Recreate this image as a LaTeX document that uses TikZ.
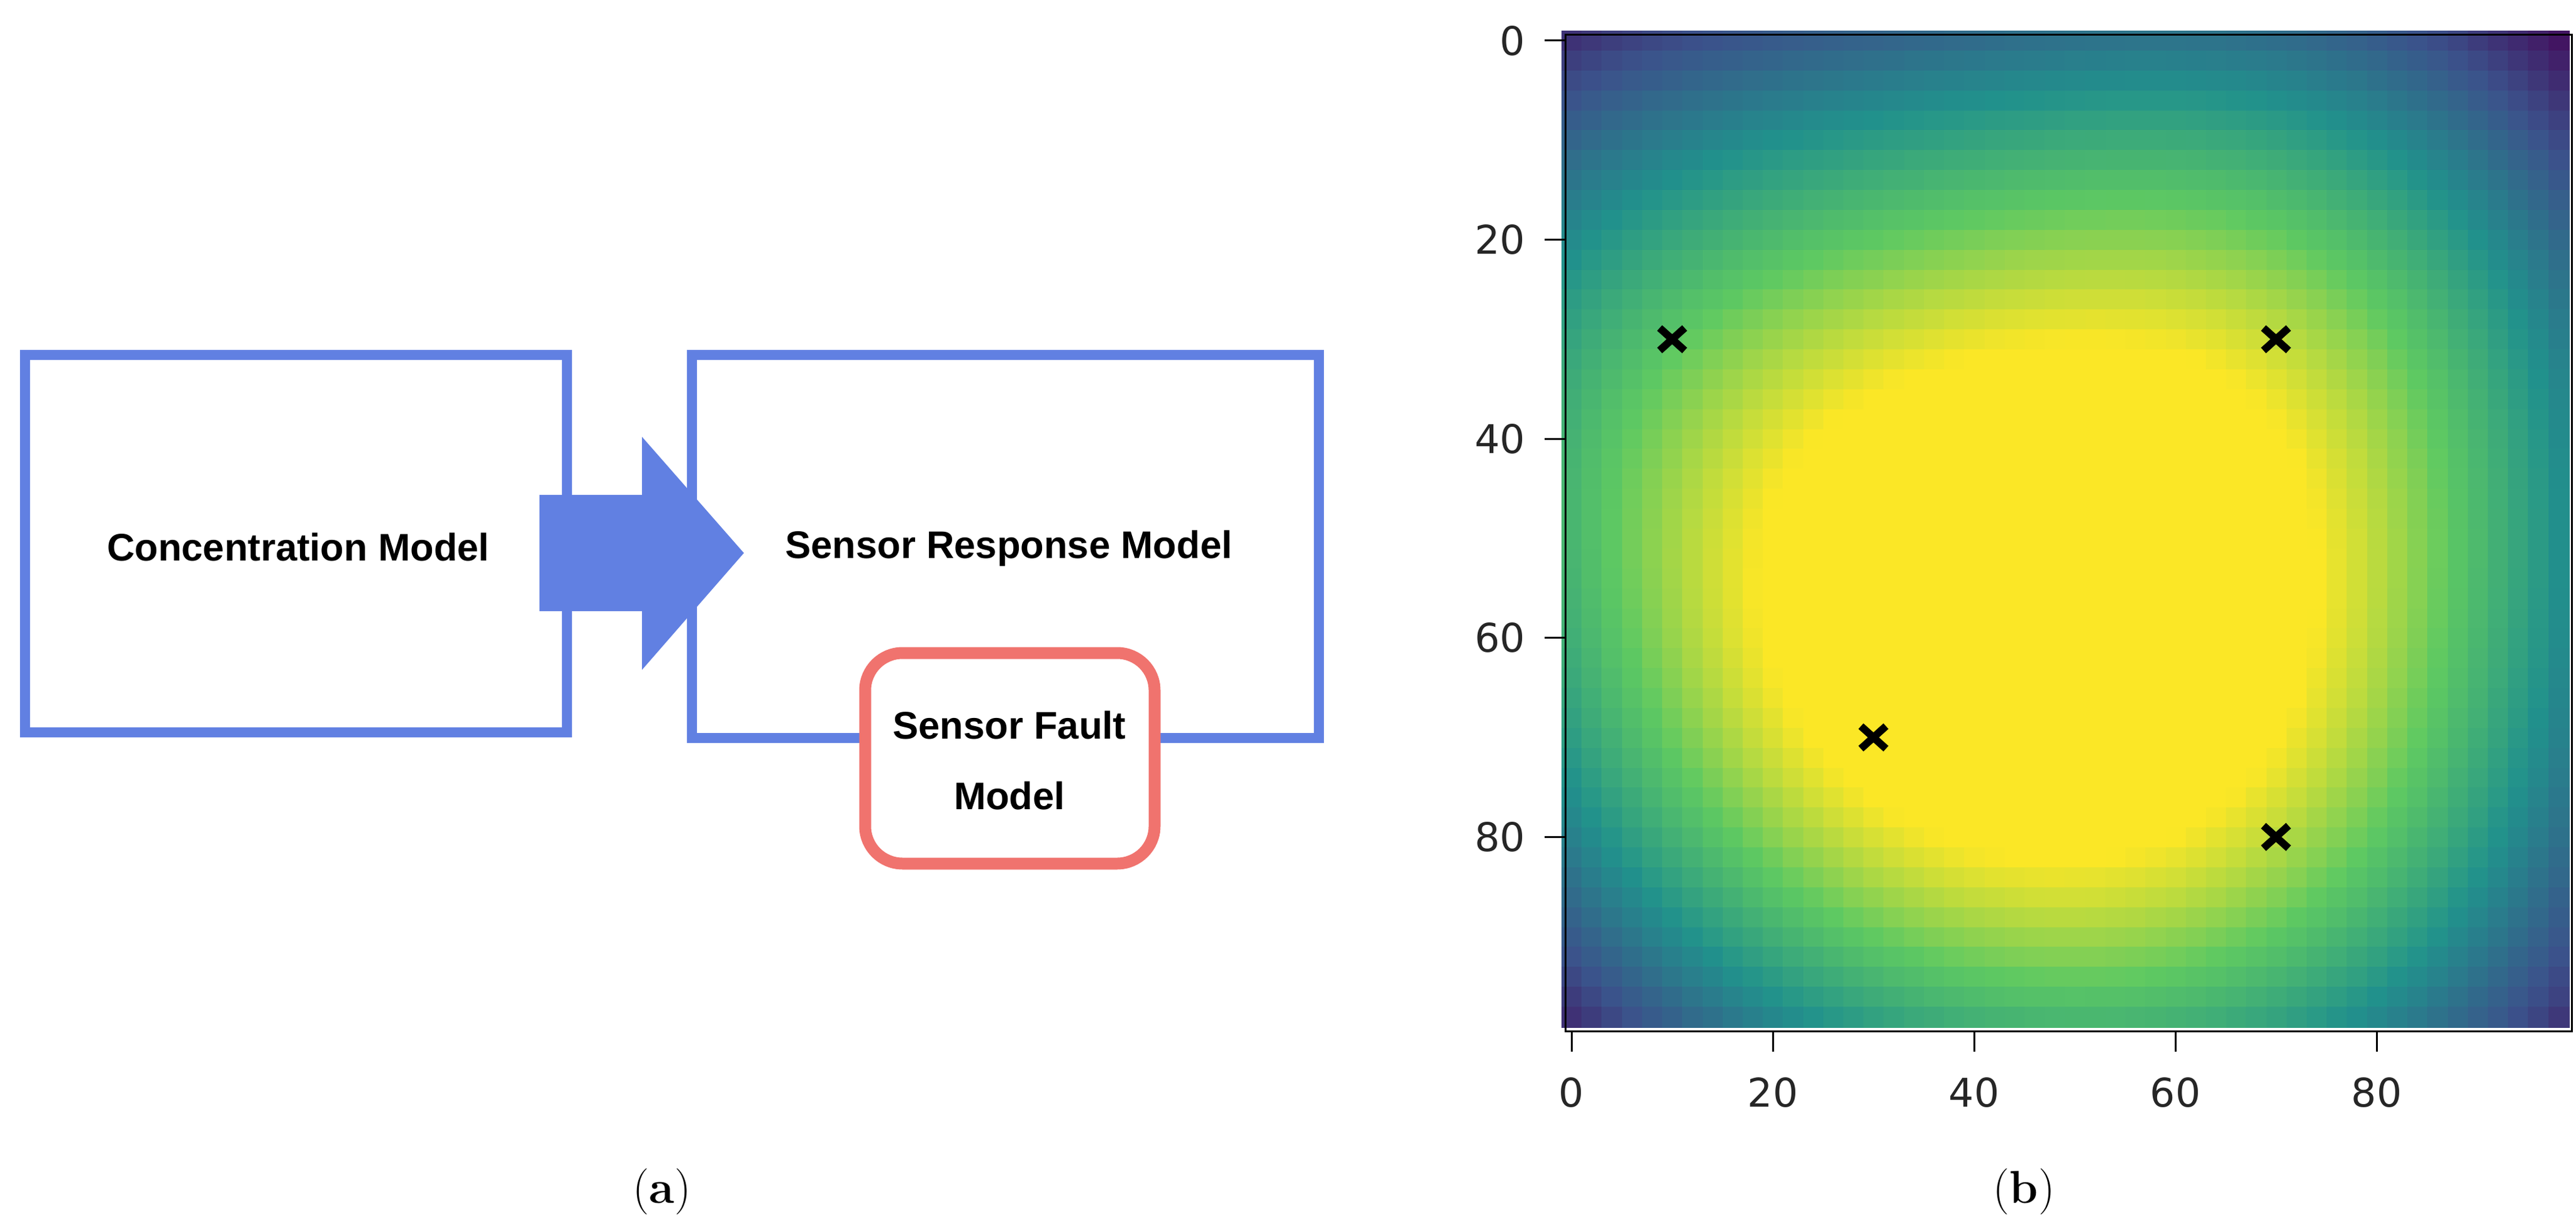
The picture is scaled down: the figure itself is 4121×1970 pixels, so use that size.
\documentclass[tikz,border=0pt]{standalone}
\usepackage{fontspec}
\usetikzlibrary{calc}
\newfontfamily\arial{Liberation Sans}
\newfontfamily\dv{DejaVu Sans}
\definecolor{boxblue}{HTML}{6180E2}
\definecolor{faultred}{HTML}{F0736E}
\definecolor{vir0}{HTML}{440154}
\definecolor{vir1}{HTML}{3B528B}
\definecolor{vir2}{HTML}{21918C}
\definecolor{vir3}{HTML}{5EC962}
\definecolor{vir4}{HTML}{FDE725}
\definecolor{vir5}{HTML}{FDE725}
\tikzset{
  model/.style={draw=boxblue, line width=4.8pt, fill=white},
  fault/.style={draw=faultred, line width=5.4pt, fill=white, rounded corners=17pt},
  lbl/.style={font=\arial\bfseries\fontsize{17.5}{24}\selectfont, text=black},
  ticklbl/.style={font=\dv\fontsize{18}{22}\selectfont, text=black!85},
  captxt/.style={font=\fontsize{21}{25}\selectfont},
  xmark/.style={line width=3.4pt, black},
  axisline/.style={line width=0.85pt, black},
}
\begin{document}
\begin{tikzpicture}[x=0.01cm, y=-0.01cm]
\useasboundingbox (0,0) rectangle (4121,1970);
% ---------- (a) ----------
\draw[model] (40,568) rectangle (907,1172);
\node[lbl] (conctxt) at (477,875) {Concentration Model};
\draw[model] (1107,568) rectangle (2110,1181);
\node[lbl] (resp) at (1614,878) {Sensor Response Model};
\fill[boxblue] (863,792) -- (1027,792) -- (1027,699) -- (1190,885) -- (1027,1072) -- (1027,978) -- (863,978) -- cycle;
\draw[fault] (1384,1045) rectangle (1847,1382);
\node[lbl, align=center] (faulttxt) at (1615,1217) {Sensor Fault\\[8pt]Model};
\node[captxt] (capa) at (1059,1907) {(\textbf{a})};
% ---------- (b) heatmap ----------
\begin{scope}[shift={(2506,57)}, x=0.1610cm, y=-0.1593cm]
\foreach \i in {0,...,49}{
  \foreach \j in {0,...,49}{
    \pgfmathsetmacro\u{(2*\i+0.5)/10}
    \pgfmathsetmacro\v{(2*\j+0.5)/10}
    \pgfmathsetmacro\f{0.7*exp(-((\u-1)^2+(\v-3)^2)/18)+exp(-((\u-7)^2+(\v-3)^2)/18)+exp(-((\u-3)^2+(\v-7)^2)/18)+0.8*exp(-((\u-7)^2+(\v-8)^2)/18)}
    \pgfmathsetmacro\t{(min(max((\f-0.38)/1.22,0.001),1)^0.8)*3.999}
    \pgfmathtruncatemacro\k{floor(\t)}
    \pgfmathtruncatemacro\p{100*(\t-\k)}
    \pgfmathtruncatemacro\kk{\k+1}
    \fill[vir\kk!\p!vir\k] (2*\i-0.5,2*\j-0.5) rectangle (2*\i+1.6,2*\j+1.6);
  }
}
\end{scope}
\draw[axisline] (2504,56) rectangle (4114,1650);
% ticks
\foreach \n in {0,20,40,60,80}{
  \node[ticklbl, anchor=north] (xt\n) at ({2514+\n*16.1},1712) {\n};
  \draw[axisline] ({2514+\n*16.1},1650) -- ({2514+\n*16.1},1683);
  \node[ticklbl, anchor=east] (yt\n) at (2452,{65+\n*15.93}) {\n};
  \draw[axisline] (2504,{65+\n*15.93}) -- (2471,{65+\n*15.93});
}
% markers
\foreach \mx/\my [count=\c] in {10/30,70/30,30/70,70/80}{
  \coordinate (m\c) at ({2514+\mx*16.1},{65+\my*15.93});
  \draw[xmark] ($(m\c)+(-20,-18)$) -- ($(m\c)+(20,18)$);
  \draw[xmark] ($(m\c)+(-20,18)$) -- ($(m\c)+(20,-18)$);
}
\node[captxt] (capb) at (3238,1907) {(\textbf{b})};
\end{tikzpicture}
\end{document}
